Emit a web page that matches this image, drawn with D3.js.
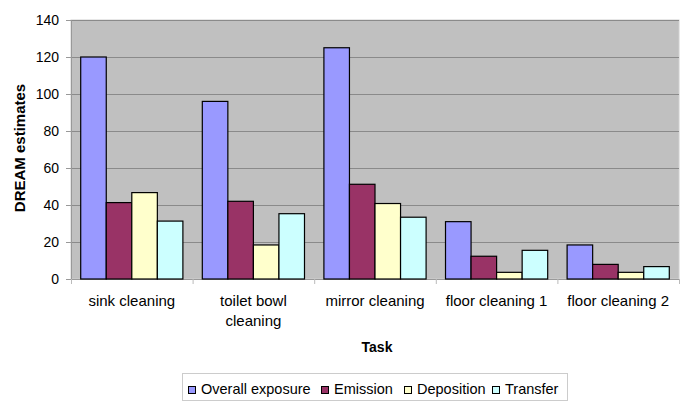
<!DOCTYPE html>
<html><head><meta charset="utf-8">
<script src="https://cdn.jsdelivr.net/npm/d3@7"></script>
<style>body{margin:0;background:#fff}svg{display:block}text{font-family:"Liberation Sans",Arial,sans-serif}</style>
</head><body>
<svg id="c" width="685" height="403"></svg>
<script>
const categories = [["sink cleaning"], ["toilet bowl", "cleaning"], ["mirror cleaning"], ["floor cleaning 1"], ["floor cleaning 2"]];
const seriesNames = ["Overall exposure", "Emission", "Deposition", "Transfer"];
const overall = [120, 96, 125, 31, 18.4];
const emission = [41.3, 42, 51.2, 12.3, 7.9];
const deposition = [46.7, 18.4, 40.8, 3.6, 3.6];
const transfer = [31.3, 35.3, 33.4, 15.5, 6.7];
const yTicks = [0, 20, 40, 60, 80, 100, 120, 140];
const colors = ["#9999FF", "#993366", "#FFFFCC", "#CCFFFF"];
const series = [overall, emission, deposition, transfer];

const svg = d3.select("#c");
const m = {l: 71, r: 679, t: 20, b: 279};
const x0 = d3.scaleBand().domain(d3.range(categories.length)).range([m.l, m.r]).paddingInner(0).paddingOuter(0);
const x1 = d3.scaleBand().domain(d3.range(series.length)).range([0, x0.bandwidth()]).paddingOuter(0.38).paddingInner(0);
const y = d3.scaleLinear().domain([0, 140]).range([m.b, m.t]);

svg.append("rect").attr("x", m.l).attr("y", m.t).attr("width", m.r - m.l).attr("height", m.b - m.t)
  .attr("fill", "#C0C0C0").attr("stroke", "#d0d0d0");

svg.append("g").selectAll("line").data(yTicks.slice(1)).join("line")
  .attr("x1", m.l).attr("x2", m.r).attr("y1", d => y(d) + 0.5).attr("y2", d => y(d) + 0.5)
  .attr("stroke", "#8a8a8a").attr("stroke-width", 1);

// y axis
const ya = svg.append("g").attr("transform", `translate(${m.l},0)`)
  .call(d3.axisLeft(y).tickValues(yTicks).tickSize(5).tickPadding(7));
ya.select(".domain").attr("stroke", "#999");
ya.selectAll(".tick line").attr("stroke", "#999");
ya.selectAll("text").attr("font-size", 14).attr("fill", "#000");

// x axis
svg.append("line").attr("x1", m.l).attr("x2", m.r).attr("y1", m.b + 0.5).attr("y2", m.b + 0.5).attr("stroke", "#999");
svg.append("g").selectAll("line").data(d3.range(categories.length + 1)).join("line")
  .attr("x1", i => (i < categories.length ? x0(i) : m.r) + 0.5)
  .attr("x2", i => (i < categories.length ? x0(i) : m.r) + 0.5)
  .attr("y1", m.b).attr("y2", m.b + 5).attr("stroke", "#bbb");

const labels = svg.append("g").selectAll("text").data(categories).join("text")
  .attr("x", (d, i) => x0(i) + x0.bandwidth() / 2).attr("y", 306)
  .attr("text-anchor", "middle").attr("font-size", 15);
labels.selectAll("tspan").data(d => d).join("tspan")
  .attr("x", function() { return this.parentNode.getAttribute("x"); })
  .attr("dy", (d, i) => i === 0 ? 0 : 19.5).text(d => d);

// bars
const g = svg.append("g").selectAll("g").data(categories).join("g")
  .attr("transform", (d, i) => `translate(${x0(i)},0)`);
g.selectAll("rect").data((d, i) => series.map((s, k) => ({k, v: s[i]}))).join("rect")
  .attr("x", d => x1(d.k)).attr("width", x1.bandwidth())
  .attr("y", d => y(d.v)).attr("height", d => y(0) - y(d.v))
  .attr("fill", d => colors[d.k]).attr("stroke", "#000").attr("stroke-width", 1.2);

// titles
svg.append("text").attr("transform", `translate(24.5,148) rotate(-90)`)
  .attr("text-anchor", "middle").attr("font-size", 15).attr("font-weight", "bold").text("DREAM estimates");
svg.append("text").attr("x", 377).attr("y", 352).attr("text-anchor", "middle")
  .attr("font-size", 14).attr("font-weight", "bold").text("Task");

// legend
const lg = svg.append("g");
lg.append("rect").attr("x", 182.5).attr("y", 373.5).attr("width", 385).attr("height", 27)
  .attr("fill", "#fff").attr("stroke", "#ccc");
const lx = [188, 321, 404, 492];
const li = lg.selectAll("g").data(seriesNames).join("g").attr("transform", (d, i) => `translate(${lx[i]},0)`);
li.append("rect").attr("x", 0.5).attr("y", 386.5).attr("width", 7).attr("height", 7)
  .attr("fill", (d, i) => colors[i]).attr("stroke", "#000");
li.append("text").attr("x", 13).attr("y", 394).attr("font-size", 14.5).text(d => d);
</script>
</body></html>
